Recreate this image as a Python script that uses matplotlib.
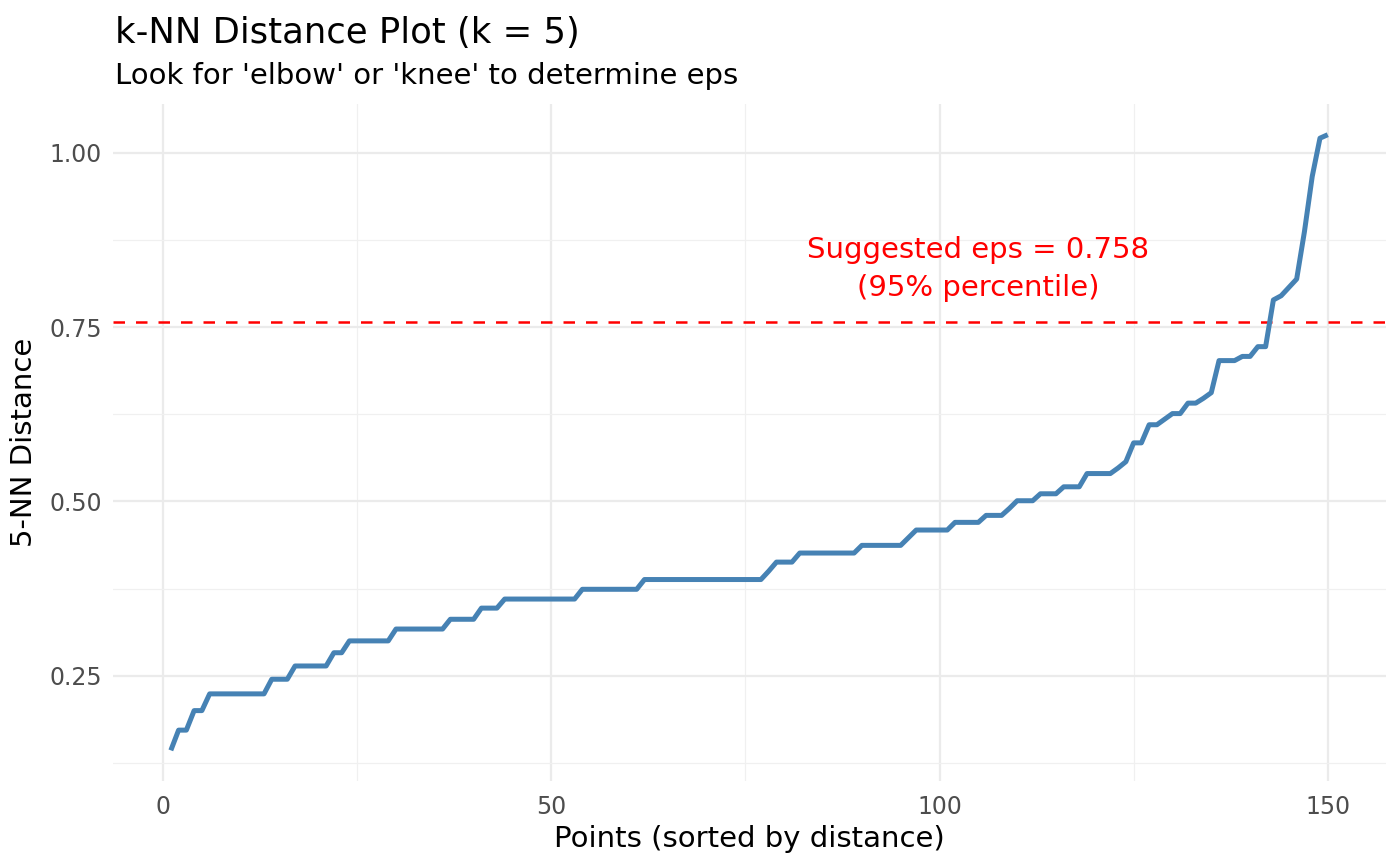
import matplotlib.pyplot as plt
import numpy as np

# sorted 5-NN distances (points 1..150)
knn_dist = [
    0.143, 0.172, 0.172, 0.200, 0.200,
    0.224, 0.224, 0.224, 0.224, 0.224, 0.224, 0.224, 0.224,
    0.245, 0.245, 0.245,
    0.264, 0.264, 0.264, 0.264, 0.264,
    0.283, 0.283,
    0.300, 0.300, 0.300, 0.300, 0.300, 0.300,
    0.317, 0.317, 0.317, 0.317, 0.317, 0.317, 0.317,
    0.331, 0.331, 0.331, 0.331,
    0.347, 0.347, 0.347,
    0.360, 0.360, 0.360, 0.360, 0.360, 0.360, 0.360, 0.360, 0.360, 0.360,
    0.374, 0.374, 0.374, 0.374, 0.374, 0.374, 0.374, 0.374,
    0.388, 0.388, 0.388, 0.388, 0.388, 0.388, 0.388, 0.388,
    0.388, 0.388, 0.388, 0.388, 0.388, 0.388, 0.388, 0.388,
    0.400,
    0.413, 0.413, 0.413,
    0.426, 0.426, 0.426, 0.426, 0.426, 0.426, 0.426, 0.426,
    0.437, 0.437, 0.437, 0.437, 0.437, 0.437,
    0.448,
    0.459, 0.459, 0.459, 0.459, 0.459,
    0.470, 0.470, 0.470, 0.470,
    0.480, 0.480, 0.480,
    0.490,
    0.501, 0.501, 0.501,
    0.511, 0.511, 0.511,
    0.521, 0.521, 0.521,
    0.540, 0.540, 0.540, 0.540,
    0.548, 0.557,
    0.584, 0.584,
    0.610, 0.610,
    0.618, 0.626, 0.626,
    0.641, 0.641,
    0.648, 0.656,
    0.702, 0.702, 0.702,
    0.708, 0.708,
    0.722, 0.722,
    0.789, 0.795, 0.807, 0.819,
    0.887, 0.966, 1.021, 1.026,
]
points = np.arange(1, len(knn_dist) + 1)
eps = 0.758

title = "k-NN Distance Plot (k = 5)"
subtitle = "Look for 'elbow' or 'knee' to determine eps"
label_text = "Suggested eps = 0.758\n(95% percentile)"

fig = plt.figure(figsize=(14, 8.66), dpi=100)
ax = fig.add_axes([0.0807, 0.098, 0.909, 0.782])

ax.plot(points, knn_dist, color='#4682B4', linewidth=3.6, solid_joinstyle='round',
        solid_capstyle='butt', zorder=3)
ax.axhline(eps, color='red', linewidth=1.8, linestyle=(0, (4.6, 4.4)), zorder=2)
ax.text(105, eps + 0.075, label_text, color='red', fontsize=21, ha='center',
        va='center', linespacing=1.45)

# ggplot-like limits (5% expansion)
xr = points[-1] - points[0]
ax.set_xlim(points[0] - 0.05 * xr, points[-1] + 0.05 * xr)
yr = max(knn_dist) - min(knn_dist)
ax.set_ylim(min(knn_dist) - 0.05 * yr, max(knn_dist) + 0.05 * yr)

ax.set_xticks([0, 50, 100, 150])
ax.set_xticks([25, 75, 125], minor=True)
ax.set_yticks([0.25, 0.50, 0.75, 1.00])
ax.set_yticklabels(['0.25', '0.50', '0.75', '1.00'])
ax.set_yticks([0.125, 0.375, 0.625, 0.875], minor=True)

ax.grid(which='major', color='#EBEBEB', linewidth=1.6)
ax.grid(which='minor', color='#F0F0F0', linewidth=0.9)
ax.set_axisbelow(True)
for s in ax.spines.values():
    s.set_visible(False)
ax.tick_params(which='both', length=0)
ax.tick_params(axis='both', labelsize=17, colors='#4D4D4D')
ax.tick_params(axis='x', pad=10)
ax.tick_params(axis='y', pad=8)

ax.set_xlabel("Points (sorted by distance)", fontsize=21, labelpad=4)
ax.set_ylabel("5-NN Distance", fontsize=21, labelpad=8)

fig.text(0.082, 0.950, title, fontsize=25.5, ha='left', va='baseline')
fig.text(0.082, 0.903, subtitle, fontsize=21, ha='left', va='baseline')

fig.savefig('out.png', dpi=100, facecolor='white')
